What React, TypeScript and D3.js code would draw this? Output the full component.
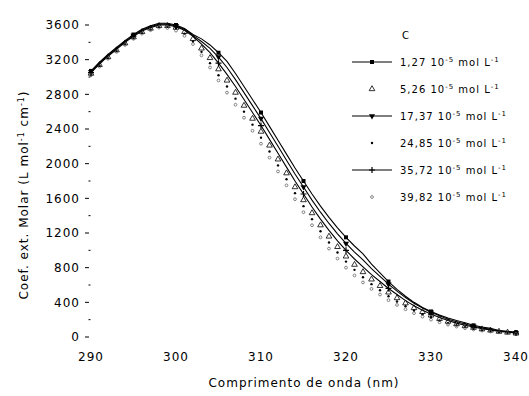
import React, { useEffect, useRef } from "react";
import * as d3 from "d3";

// Wavelengths (nm), 1 nm steps
const wavelengths = d3.range(290, 341);

// Molar extinction coefficient for each concentration
const s1 = [3070, 3170, 3260, 3340, 3420, 3490, 3550, 3590, 3620, 3620, 3600, 3560, 3490, 3440, 3370, 3280, 3180, 3040, 2890, 2740, 2590, 2430, 2270, 2110, 1950, 1800, 1650, 1510, 1380, 1260, 1150, 1050, 960, 840, 740, 640, 550, 470, 400, 340, 295, 255, 220, 190, 165, 135, 115, 100, 75, 65, 55];
const s2 = [3040, 3140, 3230, 3310, 3390, 3460, 3520, 3560, 3590, 3590, 3570, 3520, 3440, 3330, 3220, 3090, 2960, 2820, 2670, 2520, 2370, 2210, 2050, 1890, 1730, 1580, 1430, 1290, 1160, 1040, 930, 835, 750, 665, 590, 515, 450, 390, 335, 290, 250, 210, 178, 150, 127, 108, 90, 76, 62, 52, 42];
const s3 = [3060, 3160, 3250, 3330, 3410, 3480, 3540, 3580, 3610, 3610, 3590, 3550, 3480, 3410, 3330, 3230, 3110, 2970, 2820, 2670, 2520, 2360, 2200, 2040, 1880, 1730, 1580, 1440, 1310, 1190, 1080, 980, 890, 790, 700, 610, 530, 455, 390, 335, 285, 245, 205, 175, 150, 125, 105, 88, 72, 60, 50];
const s4 = [3030, 3130, 3220, 3300, 3380, 3450, 3510, 3550, 3580, 3580, 3555, 3500, 3410, 3290, 3160, 3020, 2890, 2750, 2600, 2450, 2300, 2140, 1980, 1820, 1660, 1510, 1360, 1220, 1090, 975, 870, 775, 690, 610, 540, 470, 410, 355, 305, 262, 225, 190, 160, 135, 115, 98, 82, 70, 58, 48, 40];
const s5 = [3050, 3150, 3240, 3320, 3400, 3470, 3530, 3570, 3600, 3600, 3580, 3540, 3470, 3380, 3280, 3160, 3030, 2890, 2740, 2590, 2440, 2280, 2120, 1960, 1800, 1650, 1500, 1360, 1230, 1110, 1000, 900, 810, 720, 640, 560, 490, 420, 360, 310, 265, 225, 190, 160, 135, 115, 95, 80, 65, 55, 45];
const s6 = [3020, 3120, 3210, 3290, 3370, 3440, 3500, 3540, 3570, 3565, 3535, 3475, 3380, 3250, 3110, 2960, 2820, 2680, 2530, 2380, 2230, 2070, 1910, 1750, 1590, 1440, 1290, 1150, 1020, 905, 800, 710, 630, 555, 490, 425, 370, 320, 275, 235, 200, 170, 142, 120, 102, 87, 74, 63, 53, 45, 37];

// Legend labels: [mantissa, exponent]
const concentrations = [
	["1,27", "-5"],
	["5,26", "-5"],
	["17,37", "-5"],
	["24,85", "-5"],
	["35,72", "-5"],
	["39,82", "-5"],
];

const xTicks = [290, 300, 310, 320, 330, 340];
const yTicks = [0, 400, 800, 1200, 1600, 2000, 2400, 2800, 3200, 3600];

// how each series is drawn
const seriesStyle = [
	{ values: s1, line: true, marker: "square" },
	{ values: s2, line: false, marker: "triangle" },
	{ values: s3, line: true, marker: "triangleDown" },
	{ values: s4, line: false, marker: "dot" },
	{ values: s5, line: true, marker: "plus" },
	{ values: s6, line: false, marker: "circle" },
];

const FONT = "DejaVu Sans, sans-serif";

export default function App() {
	const svgRef = useRef(null);

	useEffect(() => {
		const width = 529;
		const height = 396;
		const svg = d3.select(svgRef.current).attr("width", width).attr("height", height);

		const x = d3.scaleLinear().domain([290, 340]).range([91, 516]);
		const y = d3.scaleLinear().domain([0, 3600]).range([337, 25]);

		// Y axis ticks (no axis line)
		const yAxis = svg.append("g").attr("transform", "translate(90,0)");
		yAxis
			.selectAll("line.major")
			.data(yTicks)
			.join("line")
			.attr("x1", -5)
			.attr("x2", -1)
			.attr("y1", (d) => y(d))
			.attr("y2", (d) => y(d))
			.attr("stroke", "#000")
			.attr("stroke-width", 1);
		yAxis
			.selectAll("line.minor")
			.data(yTicks.slice(0, -1).map((d) => d + 200))
			.join("line")
			.attr("x1", -1.5)
			.attr("x2", 0.5)
			.attr("y1", (d) => y(d))
			.attr("y2", (d) => y(d))
			.attr("stroke", "#000");
		yAxis
			.selectAll("text")
			.data(yTicks)
			.join("text")
			.attr("x", -10)
			.attr("y", (d) => y(d))
			.attr("dy", "0.35em")
			.attr("text-anchor", "end")
			.style("font-family", FONT)
			.style("font-size", "12px")
			.style("letter-spacing", "1px")
			.text((d) => d);

		// X axis labels
		svg.append("g")
			.selectAll("text")
			.data(xTicks)
			.join("text")
			.attr("x", (d) => x(d))
			.attr("y", 357)
			.attr("dy", "0.35em")
			.attr("text-anchor", "middle")
			.style("font-family", FONT)
			.style("font-size", "12px")
			.style("letter-spacing", "1px")
			.text((d) => d);

		const symbol = (g, type, cx, cy) => {
			if (type === "square") {
				g.append("rect").attr("x", cx - 2).attr("y", cy - 2).attr("width", 4).attr("height", 4).attr("fill", "#000");
			} else if (type === "triangle") {
				g.append("path")
					.attr("d", d3.symbol(d3.symbolTriangle, 14)())
					.attr("transform", `translate(${cx},${cy})`)
					.attr("fill", "none")
					.attr("stroke", "#000")
					.attr("stroke-width", 0.8);
			} else if (type === "triangleDown") {
				g.append("path")
					.attr("d", d3.symbol(d3.symbolTriangle, 16)())
					.attr("transform", `translate(${cx},${cy}) rotate(180)`)
					.attr("fill", "#000");
			} else if (type === "dot") {
				g.append("circle").attr("cx", cx).attr("cy", cy).attr("r", 1.2).attr("fill", "#000");
			} else if (type === "plus") {
				g.append("path")
					.attr("d", `M${cx - 3},${cy}H${cx + 3}M${cx},${cy - 3}V${cy + 3}`)
					.attr("stroke", "#000")
					.attr("stroke-width", 1.2);
			} else {
				g.append("circle").attr("cx", cx).attr("cy", cy).attr("r", 1.4).attr("fill", "none").attr("stroke", "#555").attr("stroke-width", 0.7);
			}
		};

		const line = d3
			.line()
			.x((d, i) => x(wavelengths[i]))
			.y((d) => y(d));

		// Series
		seriesStyle.forEach((s) => {
			const g = svg.append("g");
			if (s.line) {
				g.append("path")
					.datum(s.values)
					.attr("d", line)
					.attr("fill", "none")
					.attr("stroke", "#000")
					.attr("stroke-width", 1.1);
				s.values.forEach((v, i) => {
					if (i % 5 === 0) symbol(g, s.marker, x(wavelengths[i]), y(v));
				});
			} else {
				s.values.forEach((v, i) => symbol(g, s.marker, x(wavelengths[i]), y(v)));
			}
		});

		// Legend
		const legend = svg.append("g").attr("transform", "translate(352,0)");
		legend
			.append("text")
			.attr("x", 50)
			.attr("y", 35)
			.attr("dy", "0.35em")
			.style("font-family", FONT)
			.style("font-size", "10px")
			.text("C");

		seriesStyle.forEach((s, i) => {
			const cy = 62 + i * 27;
			if (s.line) {
				legend.append("line").attr("x1", 0).attr("x2", 40).attr("y1", cy).attr("y2", cy).attr("stroke", "#000").attr("stroke-width", 1.1);
			}
			symbol(legend, s.marker, 20, cy);
			const t = legend
				.append("text")
				.attr("x", 48)
				.attr("y", cy)
				.attr("dy", "0.35em")
				.style("font-family", FONT)
				.style("font-size", "10px")
				.style("letter-spacing", "1px");
			t.append("tspan").text(`${concentrations[i][0]} 10`);
			t.append("tspan").attr("dy", "-4").style("font-size", "7px").text(concentrations[i][1]);
			t.append("tspan").attr("dy", "4").text(" mol L");
			t.append("tspan").attr("dy", "-4").style("font-size", "7px").text("-1");
		});

		// X axis title
		svg.append("text")
			.attr("x", 304)
			.attr("y", 383)
			.attr("dy", "0.35em")
			.attr("text-anchor", "middle")
			.style("font-family", FONT)
			.style("font-size", "12px")
			.style("letter-spacing", "1px")
			.text("Comprimento de onda (nm)");

		// Y axis title
		const yTitle = svg
			.append("text")
			.attr("transform", "translate(24,195) rotate(-90)")
			.attr("text-anchor", "middle")
			.attr("dy", "0.35em")
			.style("font-family", FONT)
			.style("font-size", "12px")
			.style("letter-spacing", "1px");
		yTitle.append("tspan").text("Coef. ext. Molar (L mol");
		yTitle.append("tspan").attr("dy", "-4").style("font-size", "8px").text("-1");
		yTitle.append("tspan").attr("dy", "4").text(" cm");
		yTitle.append("tspan").attr("dy", "-4").style("font-size", "8px").text("-1");
		yTitle.append("tspan").attr("dy", "4").text(")");

		return () => {
			d3.select(svgRef.current).selectAll("*").remove();
		};
	}, []);

	return (
		<div>
			<svg ref={svgRef} style={{ position: "absolute", left: 0, top: 0, background: "#fff" }}></svg>
		</div>
	);
}
